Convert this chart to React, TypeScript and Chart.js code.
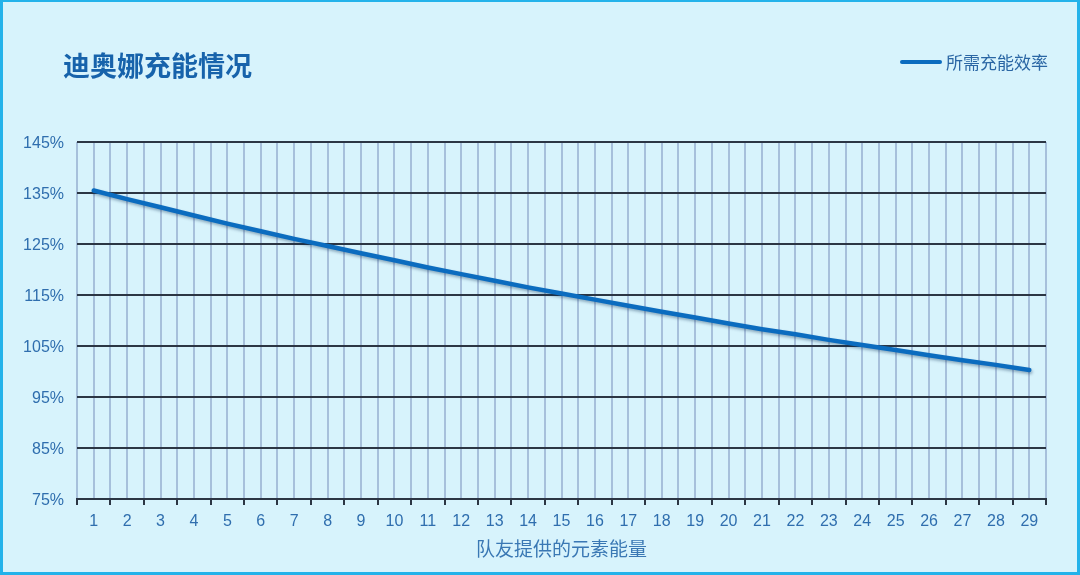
import React, { useEffect, useRef } from "react";
import { Chart, registerables } from "chart.js";

Chart.register(...registerables);

const categories: number[] = [1, 2, 3, 4, 5, 6, 7, 8, 9, 10, 11, 12, 13, 14, 15, 16, 17, 18, 19, 20, 21, 22, 23, 24, 25, 26, 27, 28, 29];
const requiredER: number[] = [135.5, 133.8, 132.2, 130.6, 129.0, 127.5, 126.0, 124.6, 123.2, 121.8, 120.4, 119.1, 117.8, 116.5, 115.3, 114.1, 112.9, 111.7, 110.6, 109.4, 108.3, 107.3, 106.2, 105.2, 104.2, 103.2, 102.2, 101.3, 100.3];
const yTicks: number[] = [75, 85, 95, 105, 115, 125, 135, 145];

const titleText = "迪奥娜充能情况";
const seriesName = "所需充能效率";
const xTitle = "队友提供的元素能量";

const FONT = "'Liberation Sans', 'Noto Sans CJK SC', Arial, sans-serif";
const CJK = "'Noto Sans CJK SC', 'Liberation Sans', sans-serif";
const LINE_COLOR = "#0b6cbf";

export default function App() {
  const ref = useRef<HTMLCanvasElement | null>(null);

  useEffect(() => {
    if (!ref.current) return;
    const shadowPlugin = {
      id: "lineShadow",
      beforeDatasetsDraw(chart: any) {
        const ctx = chart.ctx;
        ctx.save();
        ctx.shadowColor = "rgba(0,40,80,0.35)";
        ctx.shadowBlur = 3;
        ctx.shadowOffsetX = 1;
        ctx.shadowOffsetY = 2;
      },
      afterDatasetsDraw(chart: any) {
        chart.ctx.restore();
      },
    };
    const chart = new Chart(ref.current, {
      type: "line",
      data: {
        datasets: [
          {
            label: seriesName,
            data: categories.map((c, i) => ({ x: c, y: requiredER[i] })),
            borderColor: LINE_COLOR,
            backgroundColor: LINE_COLOR,
            borderWidth: 4.5,
            pointRadius: 0,
            borderCapStyle: "round",
            tension: 0,
          },
        ],
      },
      options: {
        responsive: false,
        animation: false,
        layout: { padding: { left: 10, right: 34, top: 142, bottom: 0 } },
        plugins: {
          legend: { display: false },
          title: { display: false },
          tooltip: { enabled: false },
        },
        scales: {
          x: {
            type: "linear",
            min: categories[0] - 0.5,
            max: categories[categories.length - 1] + 0.5,
            afterFit: (s: any) => {
              s.height = 76;
            },
            ticks: {
              stepSize: 0.5,
              maxTicksLimit: 200,
              autoSkip: false,
              maxRotation: 0,
              padding: 7,
              color: "#2f6eae",
              font: { family: FONT, size: 16 },
              callback: (v: any) => {
                const n = Number(v);
                return Number.isInteger(n) && categories.includes(n) ? String(n) : "";
              },
            },
            grid: {
              color: "#a6c0db",
              lineWidth: 2,
              tickLength: 6,
              tickWidth: 2,
              tickColor: (c: any) => (c.tick && Number.isInteger(c.tick.value) ? "rgba(0,0,0,0)" : "#2b3644"),
            },
            border: { display: true, color: "#2b3644", width: 2 },
            title: {
              display: true,
              text: xTitle,
              color: "#3a78b4",
              font: { family: CJK, size: 19 },
              padding: { top: 0, bottom: 14.6 },
            },
          },
          y: {
            min: 75,
            max: 145,
            afterFit: (s: any) => {
              s.width = 67;
            },
            afterBuildTicks: (s: any) => {
              s.ticks = yTicks.map((v) => ({ value: v }));
            },
            ticks: {
              padding: 13,
              labelOffset: 2,
              color: "#2f6eae",
              font: { family: FONT, size: 16 },
              callback: (v: any) => `${v}%`,
            },
            grid: {
              color: "#2b3644",
              lineWidth: 2,
              drawTicks: false,
            },
            border: { display: false },
          },
        },
      },
      plugins: [shadowPlugin],
    } as any);
    return () => chart.destroy();
  }, []);

  return (
    <div style={{ position: "fixed", left: 0, top: 0, width: 1080, height: 575, background: "#d7f3fc", overflow: "hidden" }}>
      <canvas ref={ref} width={1080} height={575} style={{ position: "absolute", left: 0, top: 0, width: 1080, height: 575 }} />
      <div
        style={{
          position: "absolute",
          left: 0,
          top: 0,
          width: 1080,
          height: 575,
          boxSizing: "border-box",
          borderStyle: "solid",
          borderColor: "#23b2ea",
          borderWidth: "2px 3px 3px 3px",
          pointerEvents: "none",
        }}
      />
      <div
        style={{
          position: "absolute",
          left: 63,
          top: 51,
          fontFamily: CJK,
          fontWeight: 700,
          fontSize: 27,
          lineHeight: "28px",
          color: "#1763ab",
          whiteSpace: "nowrap",
        }}
      >
        {titleText}
      </div>
      <div style={{ position: "absolute", left: 900, top: 60, width: 42, height: 4, borderRadius: 2, background: LINE_COLOR }} />
      <div
        style={{
          position: "absolute",
          left: 946,
          top: 52,
          fontFamily: CJK,
          fontSize: 17,
          lineHeight: "20px",
          color: "#2a66a4",
          whiteSpace: "nowrap",
        }}
      >
        {seriesName}
      </div>
    </div>
  );
}
